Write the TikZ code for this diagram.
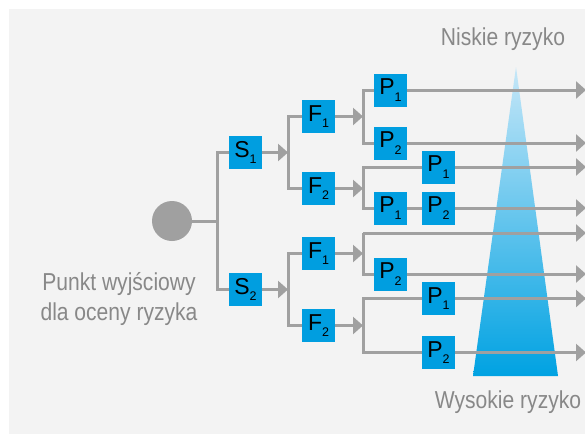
\documentclass[tikz,border=0pt]{standalone}
\usepackage{fontspec}
\setmainfont{Liberation Sans}
\newfontfamily\narrowfont{Liberation Sans}[FakeStretch=0.86]
\usetikzlibrary{arrows.meta}

\definecolor{bggray}{HTML}{F3F3F3}
\definecolor{wiregray}{HTML}{A0A0A0}
\definecolor{boxblue}{HTML}{009EE0}
\definecolor{labelgray}{HTML}{888888}
\definecolor{conetop}{HTML}{C6E7F8}
\definecolor{conemid}{HTML}{00B4EB}
\definecolor{conebot}{HTML}{00A2E2}

% Buchstabe mit tiefgestelltem Index
\newcommand{\boxlbl}[2]{#1\raisebox{-6.5pt}{\fontsize{12.5}{12.5}\selectfont #2}}

\tikzset{
  wire/.style={draw=wiregray, line width=3pt},
  tipwire/.style={wire, -{Triangle[length=10pt,width=17pt]}},
  riskbox/.style={fill=boxblue, minimum size=33pt, inner sep=0pt,
    font=\fontsize{23}{23}\selectfont},
  caption/.style={text=labelgray, inner sep=0pt, align=center,
    font=\narrowfont\fontsize{24.5}{30}\selectfont}
}

\begin{document}
\begin{tikzpicture}[x=1pt, y=-1pt]
  % Rahmen und Hintergrund
  \useasboundingbox (0,0) rectangle (585,434);
  \fill[bggray] (9,9) rectangle (585,434);

  % Risikokegel
  \shade[top color=conetop, middle color=conemid, bottom color=conebot]
    (516,67) -- (558,376) -- (473,376) -- cycle;

  % Startpunkt und erste Stufe
  \node[circle, fill=wiregray, minimum size=40pt, inner sep=0pt] (start) at (172,221) {};
  \coordinate (split) at (217,221);
  \node[riskbox] (s1) at (245.5,152.5) {\boxlbl{S}{1}};
  \node[riskbox] (s2) at (245.5,289.5) {\boxlbl{S}{2}};
  \draw[wire] (start.east) -- (split) |- (s1.west);
  \draw[wire] (split) |- (s2.west);

  % zweite Stufe
  \coordinate (j1) at (288,152.5);
  \coordinate (j2) at (288,289.5);
  \node[riskbox] (f1a) at (318.5,116.5) {\boxlbl{F}{1}};
  \node[riskbox] (f2a) at (318.5,188.5) {\boxlbl{F}{2}};
  \node[riskbox] (f1b) at (318.5,253.5) {\boxlbl{F}{1}};
  \node[riskbox] (f2b) at (318.5,325.5) {\boxlbl{F}{2}};
  \draw[tipwire] (s1.east) -- (j1);
  \draw[tipwire] (s2.east) -- (j2);
  \draw[wire] (f1a.west) -| (j1) |- (f2a.west);
  \draw[wire] (f1b.west) -| (j2) |- (f2b.west);

  % dritte Stufe
  \coordinate (k1) at (363,116.5);
  \coordinate (k2) at (363,188.5);
  \coordinate (k3) at (363,253.5);
  \coordinate (k4) at (363,325.5);
  \foreach \src/\dst in {f1a/k1, f2a/k2, f1b/k3, f2b/k4}
    \draw[tipwire] (\src.east) -- (\dst);

  \node[riskbox] (p1a) at (390.5,90)  {\boxlbl{P}{1}};
  \node[riskbox] (p2a) at (390.5,143) {\boxlbl{P}{2}};
  \node[riskbox] (p1c) at (438.5,167) {\boxlbl{P}{1}};
  \node[riskbox] (p1d) at (390.5,208) {\boxlbl{P}{1}};
  \node[riskbox] (p2d) at (438.5,208) {\boxlbl{P}{2}};
  \coordinate (top3) at (363,233);
  \node[riskbox] (p2e) at (390.5,274) {\boxlbl{P}{2}};
  \node[riskbox] (p1f) at (438.5,298.5) {\boxlbl{P}{1}};
  \node[riskbox] (p2f) at (438.5,352.5) {\boxlbl{P}{2}};

  \draw[wire] (p1a.west) -| (k1) |- (p2a.west);
  \draw[wire] (p1c.west) -| (k2) |- (p1d.west);
  \draw[wire] (p1d.east) -- (p2d.west);
  \draw[wire] (top3) -- (k3) |- (p2e.west);
  \draw[wire] (p1f.west) -| (k4) |- (p2f.west);

  % Ausgaenge nach rechts
  \foreach \src in {p1a, p2a, p1c, p2d, top3, p2e, p1f, p2f}
    \draw[tipwire] (\src.east) -- (\src.east -| 586,0);

  % Beschriftungen
  \node[caption] (low) at (503,39) {Niskie ryzyko};
  \node[caption] (high) at (508,402) {Wysokie ryzyko};
  \node[caption] (origin) at (119,299) {Punkt wyjściowy\\dla oceny ryzyka};
\end{tikzpicture}
\end{document}
